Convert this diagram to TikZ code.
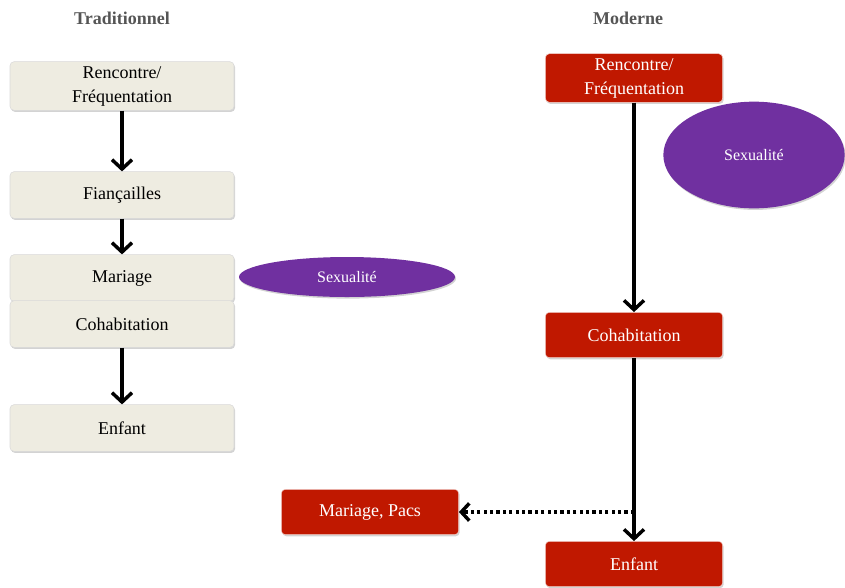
\documentclass[tikz,border=0pt]{standalone}
\usepackage{fontspec}
\setmainfont{Liberation Serif}
\usepackage{tikz}
\usetikzlibrary{arrows.meta,positioning,shapes.geometric,shadows}
\definecolor{beige}{RGB}{238,236,225}
\definecolor{rouge}{RGB}{192,24,0}
\definecolor{violet}{RGB}{112,48,160}
\definecolor{titre}{RGB}{85,85,85}

\begin{document}
\begin{tikzpicture}[x=0.75pt,y=-0.75pt,
  etape/.style={draw=white!85!black,rounded corners=3pt,fill=beige,minimum width=168pt,
                minimum height=35pt,align=center,font=\fontsize{13.5}{18}\selectfont,
                drop shadow={shadow xshift=0.8pt,shadow yshift=-1.2pt,opacity=0.35}},
  moderne/.style={draw=white!80!rouge,rounded corners=3pt,fill=rouge,text=white,minimum width=133pt,
                minimum height=34pt,align=center,font=\fontsize{13.5}{18}\selectfont,
                drop shadow={shadow xshift=0.8pt,shadow yshift=-1.2pt,opacity=0.35}},
  sexe/.style={ellipse,fill=violet,text=white,font=\fontsize{12}{14}\selectfont,
               drop shadow={shadow xshift=0.8pt,shadow yshift=-1.2pt,opacity=0.35}},
  entete/.style={font=\bfseries\fontsize{13.5}{16}\selectfont,text=titre},
  fleche/.style={line width=2.6pt,-{Straight Barb[length=7pt,width=15pt,line width=2.6pt]}},
  pointille/.style={line width=2.6pt,-{Straight Barb[length=6pt,width=13pt,line width=2.6pt]},
                    dash pattern=on 2.4pt off 2.4pt}
]
\useasboundingbox (0,0) rectangle (845,587);
\node[entete] (ttr) at (122,18) {Traditionnel};
\node[entete] (tmo) at (628,18) {Moderne};
% traditionnel
\node[etape] (t1) at (122,86) {Rencontre/\\Fréquentation};
\node[etape] (t2) at (122,195) {Fiançailles};
\node[etape] (t3) at (122,278) {Mariage};
\node[etape] (t4) at (122,324) {Cohabitation};
\node[etape] (t5) at (122,428) {Enfant};
\node[sexe,minimum width=162pt,minimum height=30pt] (s1) at (347,277) {Sexualité};
\draw[fleche] (t1) -- (t2);
\draw[fleche] (t2) -- (t3);
\draw[fleche] (t4) -- (t5);
% moderne
\node[moderne] (m1) at (634,78) {Rencontre/\\Fréquentation};
\node[sexe,minimum width=136pt,minimum height=80pt] (s2) at (754,155) {Sexualité};
\node[moderne] (m2) at (634,335) {Cohabitation};
\node[moderne] (m3) at (634,564) {Enfant};
\node[moderne] (m4) at (370,512) {Mariage, Pacs};
\coordinate (emb) at (m2.south |- m4.east);
\draw[fleche] (m1) -- (m2);
\draw[fleche] (m2) -- (m3);
\draw[pointille] (emb) -- (m4);
\end{tikzpicture}
\end{document}
